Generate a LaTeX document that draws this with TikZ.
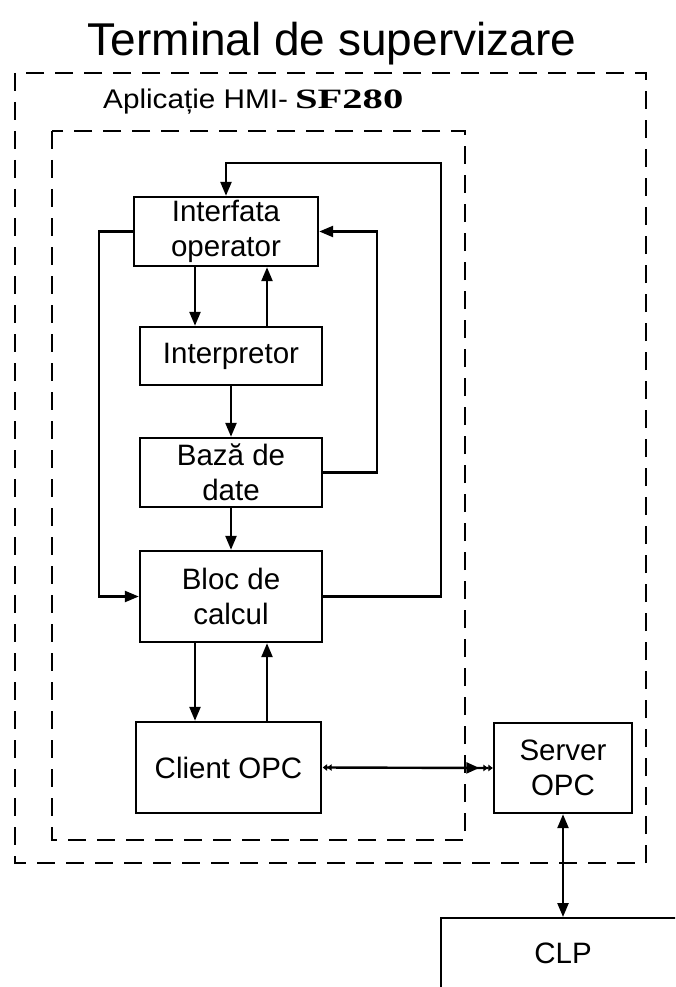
\documentclass[tikz,border=0pt]{standalone}
\usepackage{fontspec}
\usepackage{graphicx}
\setmainfont{Liberation Sans}
\newfontfamily\serifbold{Liberation Serif}
\usetikzlibrary{arrows.meta}

\tikzset{
  block/.style={draw, line width=2.4pt, inner sep=0pt, align=center,
    font=\fontsize{29.5}{35}\selectfont},
  frame/.style={draw, line width=2.4pt, dash pattern=on 18pt off 11pt},
  wire/.style={line width=2.4pt},
  link/.style={wire, -{Triangle[length=14pt,width=11pt]}},
  duplex/.style={wire, {Triangle[length=14pt,width=11pt]}-{Triangle[length=14pt,width=11pt]}},
  opclink/.style={wire,
    {Triangle[length=4.5pt,width=6.5pt,sep=0.5pt] Triangle[length=4.5pt,width=6.5pt]}-{Triangle[length=13pt,width=11pt,sep=4pt] Triangle[length=4.5pt,width=6.5pt,sep=0.5pt] Triangle[length=4.5pt,width=6.5pt]}}
}

\begin{document}
\begin{tikzpicture}[x=1pt,y=-1pt]
\useasboundingbox (0,0) rectangle (675,987);
\clip (0,0) rectangle (675,987);

% titles
\node[anchor=base, inner sep=0pt, font=\fontsize{46}{50}\selectfont] (title) at (332,56) {Terminal de supervizare};
\node[anchor=base west, inner sep=0pt] (app) at (103,109)
  {\scalebox{1.1}[1]{\fontsize{27}{30}\selectfont Aplicație HMI-}\hspace{7pt}\scalebox{1.45}[1]{\serifbold\bfseries\fontsize{28}{30}\selectfont SF280}};

% dashed enclosures
\draw[frame] (15,73) rectangle (646,863);
\draw[frame] (52,131) rectangle (465,840);

% blocks
\node[block, minimum width=184pt, minimum height=69pt] (iface)  at (226,231.5) {Interfata\\operator};
\node[block, minimum width=182pt, minimum height=58pt] (interp) at (231,356) {Interpretor};
\node[block, minimum width=182pt, minimum height=69pt] (baza)   at (231,472.5) {Bază de\\date};
\node[block, minimum width=182pt, minimum height=91pt] (bloc)   at (231,596.5) {Bloc de\\calcul};
\node[block, minimum width=185pt, minimum height=91pt] (client) at (228.5,767.5) {Client OPC};
\node[block, minimum width=138pt, minimum height=90pt] (server) at (563,768) {Server\\OPC};
\node[block, anchor=north, minimum width=244pt, text height=45pt, text depth=80pt] (clp) at (563,917) {CLP};

% guide columns for the vertical links
\coordinate (xl) at (195,0);
\coordinate (xr) at (267,0);
\coordinate (ll) at (99,0);
\coordinate (rr) at (377,0);
\coordinate (topr) at (441,163);

% links
\draw[link] (iface.south -| xl) -- (interp.north -| xl);
\draw[link] (interp.north -| xr) -- (iface.south -| xr);
\draw[link] (interp.south) -- (baza.north);
\draw[link] (baza.south) -- (bloc.north);
\draw[link] (bloc.south -| xl) -- (client.north -| xl);
\draw[link] (client.north -| xr) -- (bloc.south -| xr);

\draw[link] (bloc.east) -| (topr) -| (iface.north);
\draw[link] (baza.east) -| (rr |- iface.east) -- (iface.east);
\draw[link] (iface.west) -| (ll |- bloc.west) -- (bloc.west);

\draw[opclink] (client.east) -- (server.west);
\draw[duplex] (server.south) -- (clp.north);
\end{tikzpicture}
\end{document}
